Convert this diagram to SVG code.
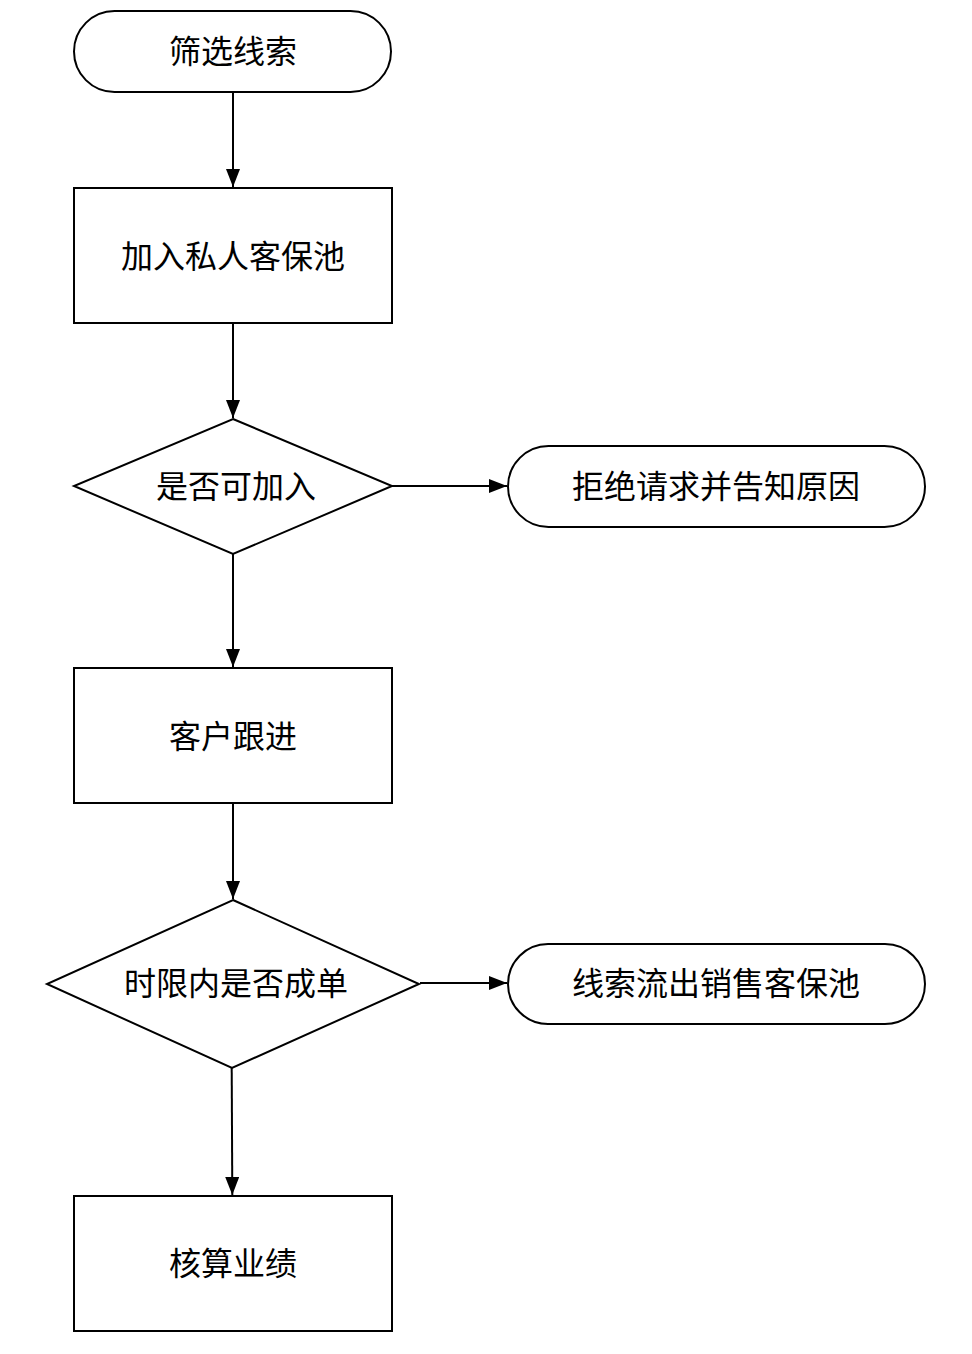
<svg xmlns="http://www.w3.org/2000/svg" width="972" height="1354" viewBox="0 0 972 1354">
<style>
.shape{fill:#fff;stroke:#000;stroke-width:2}
.lbl{font-family:"Noto Sans CJK SC","Noto Sans",sans-serif;font-size:32px;fill:#000;text-anchor:middle}
.edge{fill:none;stroke:#000;stroke-width:2}
</style>
<defs>
<marker id="arr" markerWidth="18" markerHeight="14" refX="18" refY="7" orient="auto" markerUnits="userSpaceOnUse">
<path d="M0,0 L18,7 L0,14 Z" fill="#000"/>
</marker>
</defs>
<rect width="972" height="1354" fill="#fff"/>
<g id="connectors">
<line class="edge" x1="233" y1="92" x2="233" y2="187" marker-end="url(#arr)"/>
<line class="edge" x1="233" y1="323" x2="233" y2="418" marker-end="url(#arr)"/>
<line class="edge" x1="392" y1="486" x2="507" y2="486" marker-end="url(#arr)"/>
<line class="edge" x1="233" y1="554" x2="233" y2="667" marker-end="url(#arr)"/>
<line class="edge" x1="233" y1="803" x2="233" y2="899" marker-end="url(#arr)"/>
<line class="edge" x1="420" y1="983" x2="507" y2="983" marker-end="url(#arr)"/>
<line class="edge" x1="231.7" y1="1068" x2="232.3" y2="1195" marker-end="url(#arr)"/>
</g>
<g id="start">
<rect class="shape" x="74" y="11" width="317" height="81" rx="40.5" ry="40.5"/>
<text class="lbl" x="233" y="63">筛选线索</text>
</g>
<g id="addPrivate">
<rect class="shape" x="74" y="188" width="318" height="135"/>
<text class="lbl" x="233" y="268">加入私人客保池</text>
</g>
<g id="canAdd">
<polygon class="shape" points="233,419 392,486 233,554 74,486"/>
<text class="lbl" x="236" y="498">是否可加入</text>
</g>
<g id="reject">
<rect class="shape" x="508" y="446" width="417" height="81" rx="40.5" ry="40.5"/>
<text class="lbl" x="716" y="498">拒绝请求并告知原因</text>
</g>
<g id="followUp">
<rect class="shape" x="74" y="668" width="318" height="135"/>
<text class="lbl" x="233" y="748">客户跟进</text>
</g>
<g id="dealInTime">
<polygon class="shape" points="233,900 419,984 232,1068 47,984"/>
<text class="lbl" x="236" y="995">时限内是否成单</text>
</g>
<g id="outflow">
<rect class="shape" x="508" y="944" width="417" height="80" rx="40" ry="40"/>
<text class="lbl" x="716" y="995">线索流出销售客保池</text>
</g>
<g id="performance">
<rect class="shape" x="74" y="1196" width="318" height="135"/>
<text class="lbl" x="233" y="1275">核算业绩</text>
</g>
</svg>
